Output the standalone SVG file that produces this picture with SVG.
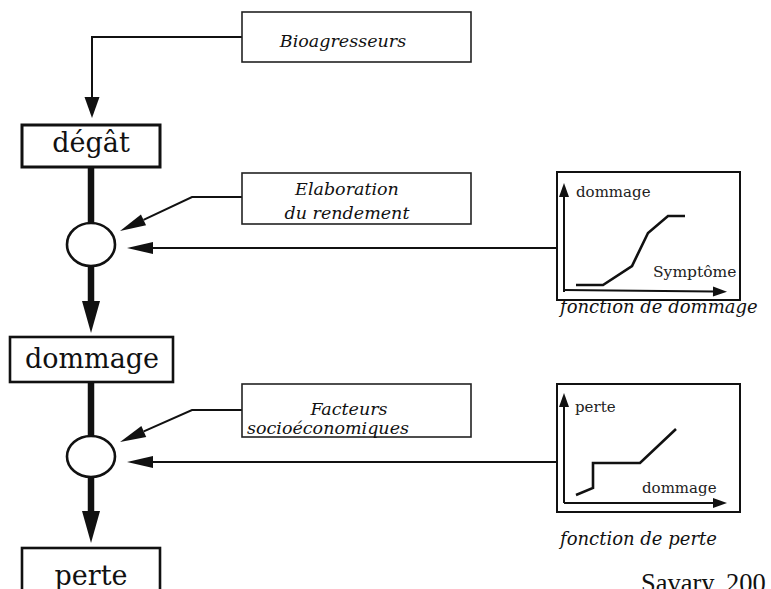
<svg xmlns="http://www.w3.org/2000/svg" width="771" height="589" viewBox="0 0 771 589">
<style>
.big{font-family:"DejaVu Serif","Liberation Serif",serif;font-size:27px;fill:#111;text-anchor:middle}
.lbl{font-family:"DejaVu Serif","Liberation Serif",serif;font-style:italic;font-size:17.5px;fill:#111;text-anchor:middle}
.cap{font-family:"DejaVu Serif","Liberation Serif",serif;font-style:italic;font-size:18px;fill:#111}
.ax{font-family:"DejaVu Serif","Liberation Serif",serif;font-size:15px;fill:#222}
.mainbox{fill:#fff;stroke:#111;stroke-width:2.6}
.lblbox{fill:#fff;stroke:#222;stroke-width:1.6}
.thin{fill:none;stroke:#111;stroke-width:2}
.thick{fill:none;stroke:#111;stroke-width:6.5}
.circ{fill:#fff;stroke:#111;stroke-width:2.6}
.curve{fill:none;stroke:#111;stroke-width:2.6}
</style>
<defs>
<marker id="sm" markerUnits="userSpaceOnUse" markerWidth="30" markerHeight="16" refX="0" refY="8" orient="auto" overflow="visible">
<path d="M0,2 L26,8 L0,14 z" fill="#111"/>
</marker>
<marker id="top" markerUnits="userSpaceOnUse" markerWidth="24" markerHeight="16" refX="0" refY="8" orient="auto" overflow="visible">
<path d="M0,0.5 L21,8 L0,15.5 z" fill="#111"/>
</marker>
<marker id="big" markerUnits="userSpaceOnUse" markerWidth="36" markerHeight="20" refX="0" refY="10" orient="auto" overflow="visible">
<path d="M0,1 L32,10 L0,19 z" fill="#111"/>
</marker>
<marker id="axa" markerUnits="userSpaceOnUse" markerWidth="16" markerHeight="12" refX="0" refY="6" orient="auto" overflow="visible">
<path d="M0,1 L14,6 L0,11 z" fill="#111"/>
</marker>
</defs>

<g id="connectors">
<path class="thin" d="M242,37 H92 V97" marker-end="url(#top)"/>
<path class="thick" d="M91,167 V223"/>
<path class="thick" d="M91,266 V301" marker-end="url(#big)"/>
<path class="thick" d="M91,382 V436"/>
<path class="thick" d="M91,477 V511" marker-end="url(#big)"/>
<path class="thin" d="M242,197 H192 L143.5,219.9" marker-end="url(#sm)"/>
<path class="thin" d="M242,410 H192 L143.8,431.4" marker-end="url(#sm)"/>
<path class="thin" d="M557,248 H153" marker-end="url(#sm)"/>
<path class="thin" d="M557,462 H153" marker-end="url(#sm)"/>
</g>

<g id="bioagresseurs">
<rect class="lblbox" x="242" y="12" width="229" height="50"/>
<text class="lbl" x="343" y="47">Bioagresseurs</text>
</g>

<g id="degat">
<rect class="mainbox" x="22" y="125" width="138" height="42" style="stroke-width:3"/>
<text class="big" x="91" y="152">dégât</text>
</g>

<g id="elaboration">
<rect class="lblbox" x="242" y="173" width="229" height="51"/>
<text class="lbl" x="347" y="195">Elaboration</text>
<text class="lbl" x="347" y="219">du rendement</text>
</g>

<g id="circle1">
<ellipse class="circ" cx="91" cy="244.5" rx="24" ry="21.5"/>
</g>

<g id="fonction-dommage">
<rect class="mainbox" x="557" y="172" width="183" height="128" style="stroke-width:2"/>
<path class="thin" d="M564,292 V197" marker-end="url(#axa)"/>
<path class="thin" d="M564,290 L713,291.5" marker-end="url(#axa)"/>
<polyline class="curve" points="576,285 603,285 632,266 648,233 668,216 685,216"/>
<text class="ax" x="576" y="197">dommage</text>
<text class="ax" x="653" y="277" style="font-size:15.5px">Symptôme</text>
<text class="cap" x="560" y="313">fonction de dommage</text>
</g>

<g id="dommage">
<rect class="mainbox" x="10" y="337" width="163" height="45"/>
<text class="big" x="92" y="368">dommage</text>
</g>

<g id="facteurs">
<rect class="lblbox" x="242" y="384" width="229" height="53"/>
<text class="lbl" x="349" y="415">Facteurs</text>
<text class="lbl" x="328" y="434">socioéconomiques</text>
</g>

<g id="circle2">
<ellipse class="circ" cx="91" cy="456.5" rx="24" ry="20.5"/>
</g>

<g id="fonction-perte">
<rect class="mainbox" x="557" y="384" width="183" height="128" style="stroke-width:2"/>
<path class="thin" d="M564,503 V407" marker-end="url(#axa)"/>
<path class="thin" d="M564,503 H713" marker-end="url(#axa)"/>
<polyline class="curve" points="576,495 593,488 593,463 640,463 676,429"/>
<text class="ax" x="575" y="412">perte</text>
<text class="ax" x="642" y="493">dommage</text>
<text class="cap" x="560" y="545">fonction de perte</text>
</g>

<g id="perte">
<rect class="mainbox" x="22" y="548" width="138" height="50"/>
<text class="big" x="91" y="585">perte</text>
</g>

<text x="641" y="592" style="font-family:'Liberation Serif',serif;font-size:26.5px;fill:#111">Savary, 200</text>
</svg>
